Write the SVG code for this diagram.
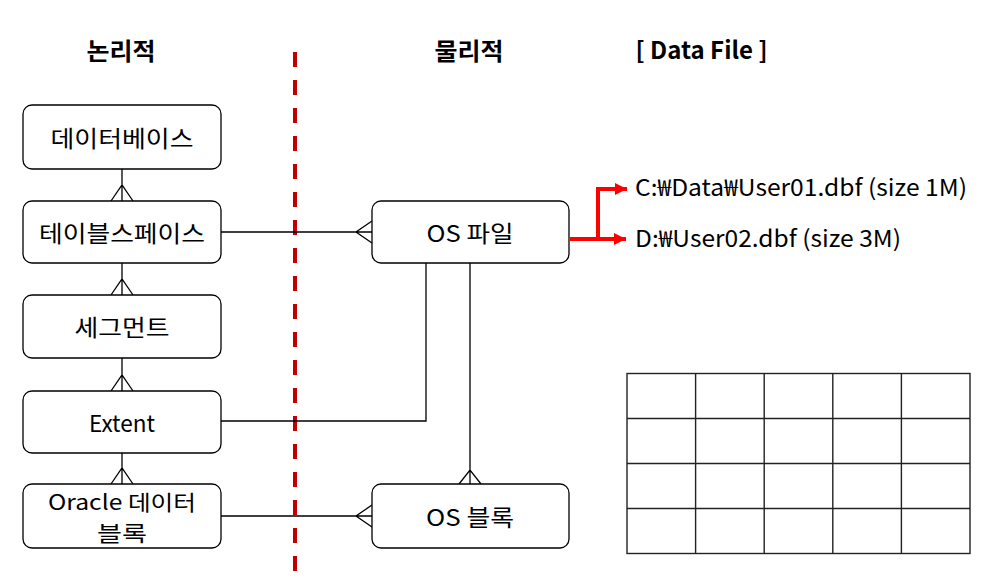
<svg xmlns="http://www.w3.org/2000/svg" width="995" height="586" viewBox="0 0 995 586">
  <style>
    text { font-family: "Noto Sans CJK KR", "Noto Sans", sans-serif; fill: #000; }
    .lbl { font-size: 23px; text-anchor: middle; dominant-baseline: central; }
    .lbl2 { font-size: 21px; text-anchor: middle; dominant-baseline: central; }
    .title { font-size: 24px; font-weight: bold; text-anchor: middle; }
    .file { font-size: 23px; }
    .box { fill: #fff; stroke: #000; stroke-width: 1.3; }
    .ln { fill: none; stroke: #000; stroke-width: 1.3; }
    .red { fill: none; stroke: #ff0000; stroke-width: 4; }
    .grid { fill: none; stroke: #222; stroke-width: 1.4; }
  </style>
  <defs>
    <marker id="arr" viewBox="0 0 12 12" refX="12" refY="6" markerWidth="12" markerHeight="12" markerUnits="userSpaceOnUse" orient="auto">
      <path d="M0,0 L12,6 L0,12 Z" fill="#ff0000"/>
    </marker>
  </defs>
  <rect width="995" height="586" fill="#fff"/>

  <g id="titles">
    <text class="title" x="121" y="60" textLength="69" lengthAdjust="spacingAndGlyphs">논리적</text>
    <text class="title" x="469" y="60" textLength="69" lengthAdjust="spacingAndGlyphs">물리적</text>
    <text class="title" x="701.5" y="59" textLength="132" lengthAdjust="spacingAndGlyphs">[ Data File ]</text>
  </g>

  <g id="divider">
    <line x1="295" y1="52" x2="295" y2="576" stroke="#c00000" stroke-width="4" stroke-dasharray="15 13"/>
  </g>

  <g id="connectors">
    <path class="ln" d="M122,169 V201 M111,201 L122,185 L133,201"/>
    <path class="ln" d="M122,263 V295 M111,295 L122,279 L133,295"/>
    <path class="ln" d="M122,358 V391 M111,391 L122,375 L133,391"/>
    <path class="ln" d="M122,453 V484 M111,484 L122,468 L133,484"/>
    <path class="ln" d="M221,232 H372 M372,221 L356,232 L372,243"/>
    <path class="ln" d="M221,421 H426 V263"/>
    <path class="ln" d="M470,263 V484 M459,484 L470,470 L481,484"/>
    <path class="ln" d="M221,516 H372 M372,505 L356,516 L372,527"/>
    <path class="red" d="M570,239 H626" marker-end="url(#arr)"/>
    <path class="red" d="M598,239 V189 H627" marker-end="url(#arr)"/>
  </g>

  <g id="n-database">
    <rect class="box" x="23" y="105" width="198" height="64" rx="9"/>
    <text class="lbl" x="122" y="137" textLength="143" lengthAdjust="spacingAndGlyphs">데이터베이스</text>
  </g>
  <g id="n-tablespace">
    <rect class="box" x="23" y="201" width="198" height="62" rx="9"/>
    <text class="lbl" x="122" y="232" textLength="166" lengthAdjust="spacingAndGlyphs">테이블스페이스</text>
  </g>
  <g id="n-segment">
    <rect class="box" x="23" y="295" width="198" height="63" rx="9"/>
    <text class="lbl" x="122" y="326" textLength="95" lengthAdjust="spacingAndGlyphs">세그먼트</text>
  </g>
  <g id="n-extent">
    <rect class="box" x="23" y="391" width="198" height="62" rx="9"/>
    <text class="lbl" x="122" y="422" textLength="66" lengthAdjust="spacingAndGlyphs">Extent</text>
  </g>
  <g id="n-oracleblock">
    <rect class="box" x="23" y="484" width="198" height="64" rx="9"/>
    <text class="lbl2"><tspan x="122" y="500.5" textLength="148" lengthAdjust="spacingAndGlyphs">Oracle 데이터</tspan><tspan x="122" y="531.5" textLength="50" lengthAdjust="spacingAndGlyphs">블록</tspan></text>
  </g>
  <g id="n-osfile">
    <rect class="box" x="372" y="201" width="197" height="62" rx="9"/>
    <text class="lbl" x="470" y="232" textLength="87" lengthAdjust="spacingAndGlyphs">OS 파일</text>
  </g>
  <g id="n-osblock">
    <rect class="box" x="372" y="484" width="197" height="64" rx="9"/>
    <text class="lbl" x="470" y="516" textLength="88" lengthAdjust="spacingAndGlyphs">OS 블록</text>
  </g>

  <g id="n-files">
    <text class="file" x="635" y="196" textLength="332" lengthAdjust="spacingAndGlyphs">C:₩Data₩User01.dbf (size 1M)</text>
    <text class="file" x="635" y="247" textLength="266" lengthAdjust="spacingAndGlyphs">D:₩User02.dbf (size 3M)</text>
  </g>

  <g id="n-grid">
    <rect class="grid" x="627" y="373.5" width="343" height="180"/>
    <path class="grid" d="M695.6,373.5 V553.5 M764.2,373.5 V553.5 M832.8,373.5 V553.5 M901.4,373.5 V553.5 M627,418.5 H970 M627,463.5 H970 M627,508.5 H970"/>
  </g>
</svg>
